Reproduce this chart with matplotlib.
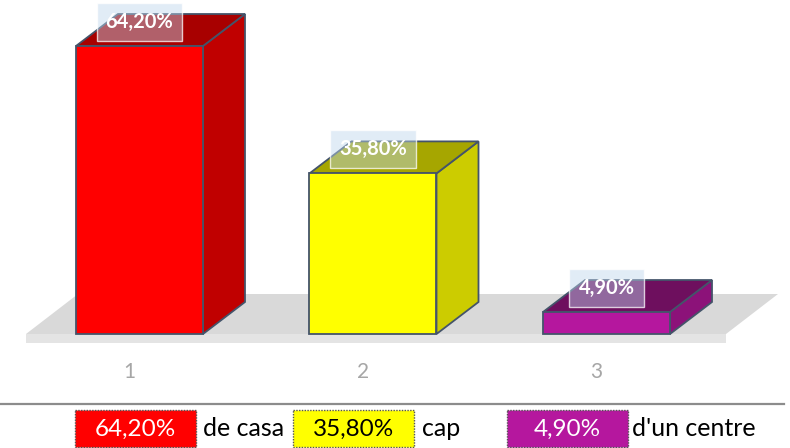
import numpy as np
import matplotlib
matplotlib.use("Agg")
import matplotlib.pyplot as plt
from matplotlib.patches import Polygon, Rectangle

plt.rcParams['font.family'] = ['Lato', 'DejaVu Sans']

# data
categories = [1, 2, 3]
values = [64.2, 35.8, 4.9]
value_labels = ["64,20%", "35,80%", "4,90%"]
legend_texts = ["de casa", "cap", "d'un centre"]

front_colors = ["#FF0000", "#FFFF00", "#B5179E"]
side_colors = ["#C00000", "#CCCC00", "#8C1279"]
top_colors = ["#A80000", "#A6A600", "#6E0F5E"]
legend_text_colors = ["white", "black", "white"]

# scale: pixels per category / per percent point
sx, sy = 233.5, 4.486
x_first, y_base = 139.5, 334.0
W, H = 790, 448

fig = plt.figure(figsize=(7.9, 4.48), dpi=100)
ax = fig.add_axes([0, 0, 1, 1])
ax.set_xlim(1 - x_first / sx, 1 + (W - x_first) / sx)
ax.set_ylim((y_base - H) / sy, y_base / sy)
ax.axis("off")

bar_w = 127 / sx
dx, dy = 42 / sx, 32 / sy
edge = "#44546A"

# floor
fl_x0, fl_x1 = 1 + (26 - x_first) / sx, 1 + (726 - x_first) / sx
fdx, fdy = 52 / sx, 40 / sy
ax.add_patch(Polygon([(fl_x0, 0), (fl_x1, 0), (fl_x1 + fdx, fdy), (fl_x0 + fdx, fdy)],
                     closed=True, fc="#D9D9D9", ec="none", zorder=1))
ax.add_patch(Polygon([(fl_x0, 0), (fl_x1, 0), (fl_x1, -9 / sy), (fl_x0, -9 / sy)],
                     closed=True, fc="#E4E4E4", ec="none", zorder=1))

# bars
for c, v, fcol, scol, tcol, lab in zip(categories, values, front_colors, side_colors,
                                        top_colors, value_labels):
    x0, x1 = c - bar_w / 2, c + bar_w / 2
    ax.add_patch(Polygon([(x1, 0), (x1 + dx, dy), (x1 + dx, v + dy), (x1, v)],
                         closed=True, fc=scol, ec=edge, lw=1.3, zorder=3))
    ax.add_patch(Polygon([(x0, v), (x1, v), (x1 + dx, v + dy), (x0 + dx, v + dy)],
                         closed=True, fc=tcol, ec=edge, lw=1.3, zorder=3))
    ax.add_patch(Rectangle((x0, 0), bar_w, v, fc=fcol, ec=edge, lw=1.3, zorder=4))
    ax.text(c, v + 24 / sy, lab, ha="center", va="center", color="white",
            fontsize=14.5, fontweight="bold", zorder=6,
            bbox=dict(boxstyle="square,pad=0.45", fc=(0.74, 0.84, 0.93, 0.45),
                      ec=(1, 1, 1, 0.75), lw=1))
    ax.text(c - 10 / sx, -38 / sy, str(c), ha="center", va="center",
            color="#A6A6A6", fontsize=15)

# bottom strip with the legend boxes
lg = fig.add_axes([0, 0, 1, 1], facecolor="none")
lg.set_xlim(0, W)
lg.set_ylim(H, 0)
lg.axis("off")
lg.plot([0, 784], [404, 404], color="#8C8C8C", lw=1.6)

box_x = [75, 293, 507]
text_x = [203, 422, 632]
for bx, tx, lab, txt, fcol, tc in zip(box_x, text_x, value_labels, legend_texts,
                                      front_colors, legend_text_colors):
    lg.add_patch(Rectangle((bx, 410), 121, 37, fc=fcol, ec="#555555", lw=1,
                           ls=(0, (1, 1))))
    lg.text(bx + 60.5, 429, lab, ha="center", va="center", color=tc, fontsize=17.5)
    lg.text(tx, 429, txt, ha="left", va="center", color="black", fontsize=18)

fig.savefig("out.png", dpi=100)
